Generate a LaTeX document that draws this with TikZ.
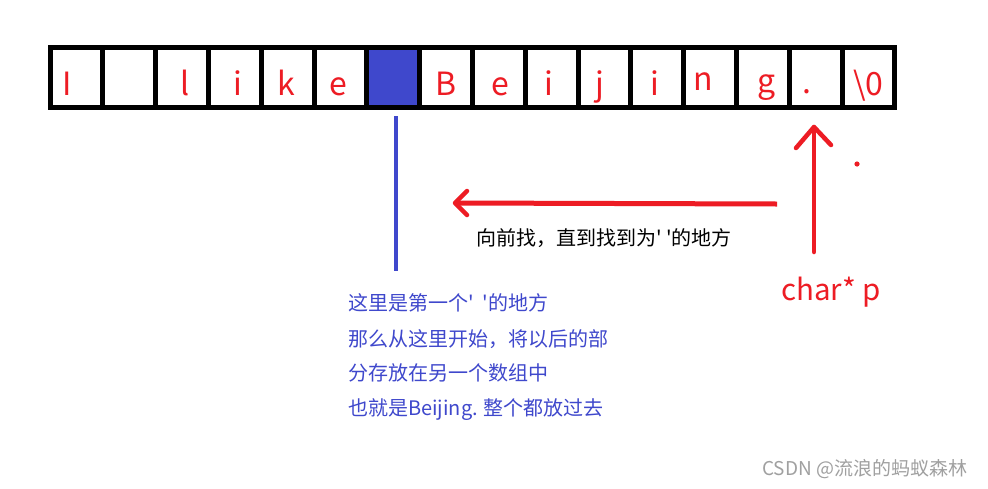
\documentclass[tikz,border=0pt]{standalone}
\usepackage{fontspec}
\newfontfamily\cjk{Noto Sans CJK SC}
\definecolor{pred}{RGB}{237,28,36}
\definecolor{pblue}{RGB}{63,72,204}
\definecolor{wgray}{RGB}{160,160,160}
\begin{document}
\begin{tikzpicture}[x=1pt,y=-1pt,font=\cjk,
  cell/.style={draw=black,line width=5pt,minimum width=52.8pt,minimum height=60pt,inner sep=0pt,outer sep=0pt},
  letter/.style={text=pred,font=\cjk\fontsize{32}{32}\selectfont,anchor=base,inner sep=0pt},
  redline/.style={draw=pred,line width=4.5pt,line cap=round,line join=round},
  blueline/.style={draw=pblue,line width=4.5pt},
  btext/.style={text=pblue,font=\cjk\fontsize{20}{20}\selectfont,anchor=base west,inner sep=0pt},
  ktext/.style={text=black,font=\cjk\fontsize{20}{20}\selectfont,anchor=base west,inner sep=0pt},
  ptext/.style={text=pred,font=\cjk\fontsize{29.5}{29.5}\selectfont,anchor=base west,inner sep=0pt},
  wtext/.style={text=wgray,font=\cjk\fontsize{19}{19}\selectfont,anchor=base west,inner sep=0pt}]
\useasboundingbox[fill=white] (0,0) rectangle (988,488);
% array cells
\foreach \i in {0,...,15}{
  \ifnum\i=6
    \node[cell,fill=pblue] (c\i) at ({50+52.8*(\i+0.5)},77.5) {};
  \else
    \node[cell] (c\i) at ({50+52.8*(\i+0.5)},77.5) {};
  \fi
}
% letters
\foreach \x/\y/\t [count=\k] in {67.5/95/I,185/95/l,237.5/95/i,286/95/k,338.5/95/e,446.5/95/B,500.5/95/e,548.5/95/i,600/95/j,654.5/95/i,703/90/n,766.5/92/g,806.5/93/.,868.5/95/{\textbackslash 0}}
  \node[letter] (t\k) at (\x,\y) {\t};
% blue marker line
\coordinate (bTop) at (396,116);
\coordinate (bBot) at (396,271);
\draw[blueline] (bTop) -- (bBot);
% red up arrow (pointer p)
\coordinate (pStart) at (814,252);
\coordinate (pTip) at (814,127);
\draw[redline] (pStart) -- (pTip);
\draw[redline] (796,148) -- (pTip) -- (831,145);
% red dot
\fill[pred] (857,164) circle (2.6);
% red left arrow
\coordinate (sStart) at (777,204);
\coordinate (sTip) at (455,203);
\draw[redline,line width=5pt,line cap=butt] (sStart) -- (sTip);
\draw[redline] (467,191) -- (sTip) -- (467,215);
% texts
\node[ktext] (k1) at (476,245.5) {向前找，直到找到为' '的地方};
\node[ptext] (p1) at (781,300) {char* p};
\node[btext] (b1) at (348,310.5) {这里是第一个'\ \ '的地方};
\node[btext] (b2) at (348,346.5) {那么从这里开始，将以后的部};
\node[btext] (b3) at (348,380.5) {分存放在另一个数组中};
\node[btext] (b4) at (348,415) {也就是Beijing. 整个都放过去};
\node[wtext] (w1) at (762,475.5) {CSDN @流浪的蚂蚁森林};
\end{tikzpicture}
\end{document}
